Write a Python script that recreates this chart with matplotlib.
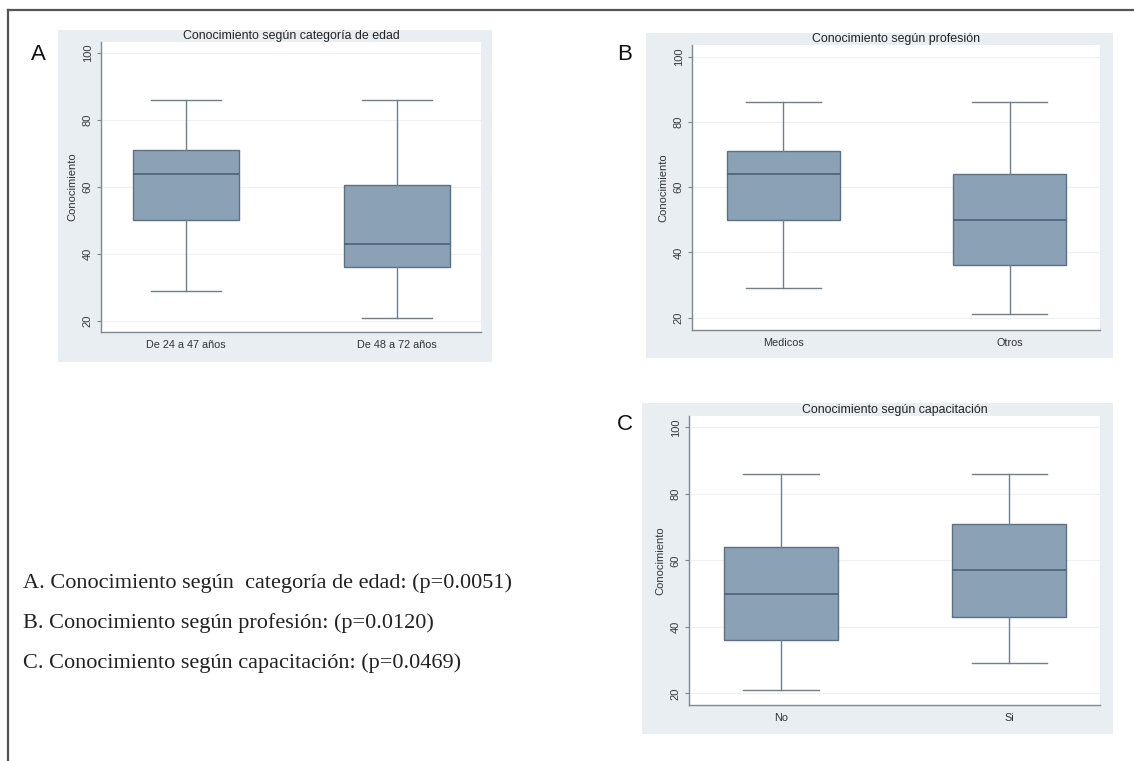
#!/usr/bin/env python3
"""Knowledge score box plots by age group, profession and training (Stata style)."""

import matplotlib

matplotlib.use("Agg")
import matplotlib.pyplot as plt
from matplotlib.lines import Line2D
from matplotlib.patches import Rectangle

W, H = 1134, 761

# --- data --------------------------------------------------------------------
edad_labels = ["De 24 a 47 años", "De 48 a 72 años"]
edad_whislo = [29, 21]
edad_q1 = [50, 36]
edad_med = [64, 43]
edad_q3 = [71, 60.5]
edad_whishi = [86, 86]

prof_labels = ["Medicos", "Otros"]
prof_whislo = [29, 21]
prof_q1 = [50, 36]
prof_med = [64, 50]
prof_q3 = [71, 64]
prof_whishi = [86, 86]

capa_labels = ["No", "Si"]
capa_whislo = [21, 29]
capa_q1 = [36, 43]
capa_med = [50, 57]
capa_q3 = [64, 71]
capa_whishi = [86, 86]

y_ticks = [20, 40, 60, 80, 100]

notes = [
    "A. Conocimiento según  categoría de edad: (p=0.0051)",
    "B. Conocimiento según profesión: (p=0.0120)",
    "C. Conocimiento según capacitación: (p=0.0469)",
]

BG = "#e8eef2"
BOX_FILL = "#8ba1b6"
BOX_EDGE = "#5c6f85"
MED = "#4d627a"
WHISK = "#707f8c"
AXIS = "#808890"
GRID = "#edf1f4"
TEXT = "#222222"


def _rect(x0, y0, x1, y1):
    return [x0 / W, 1 - y1 / H, (x1 - x0) / W, (y1 - y0) / H]


def _panel(fig, bg_px, ax_px, ylim, title, labels, whislo, q1, med, q3, whishi, letter, letter_xy):
    bx0, by0, bx1, by1 = bg_px
    fig.patches.append(
        Rectangle((bx0 / W, 1 - by1 / H), (bx1 - bx0) / W, (by1 - by0) / H,
                  transform=fig.transFigure, facecolor=BG, edgecolor="none", zorder=-5)
    )
    ax = fig.add_axes(_rect(*ax_px))
    ax.set_zorder(2)
    ax.set_facecolor("white")

    stats = [
        {"whislo": whislo[i], "q1": q1[i], "med": med[i], "q3": q3[i], "whishi": whishi[i], "fliers": []}
        for i in range(len(labels))
    ]
    ax.bxp(
        stats,
        positions=[1, 2],
        widths=0.5,
        capwidths=0.33,
        showfliers=False,
        patch_artist=True,
        boxprops={"facecolor": BOX_FILL, "edgecolor": BOX_EDGE, "linewidth": 1.0},
        medianprops={"color": MED, "linewidth": 1.2},
        whiskerprops={"color": WHISK, "linewidth": 1.0},
        capprops={"color": WHISK, "linewidth": 1.0},
    )
    ax.set_xlim(0.597, 2.398)
    ax.set_ylim(*ylim)
    ax.set_yticks(y_ticks)
    ax.set_yticklabels([str(t) for t in y_ticks], rotation=90, va="center", fontsize=8, color="#3a3a3a")
    ax.set_xticks([1, 2])
    ax.set_xticklabels(labels, fontsize=7.8, color="#333333")
    ax.tick_params(axis="x", length=0, pad=6)
    ax.tick_params(axis="y", length=3, width=0.8, color=AXIS, pad=3)
    ax.grid(axis="y", color=GRID, linewidth=0.8)
    ax.set_axisbelow(True)
    for side in ("top", "right"):
        ax.spines[side].set_visible(False)
    for side in ("left", "bottom"):
        ax.spines[side].set_color(AXIS)
        ax.spines[side].set_linewidth(1.0)
    ax.set_ylabel("Conocimiento", fontsize=8, color="#333333", labelpad=4)
    ax.set_title(title, fontsize=8.9, color=TEXT, pad=-2)
    fig.text(letter_xy[0] / W, 1 - letter_xy[1] / H, letter, fontsize=16,
             ha="center", va="center", color="#111111")
    return ax


def main():
    plt.rcParams["font.family"] = ["Liberation Sans", "DejaVu Sans"]
    fig = plt.figure(figsize=(W / 100, H / 100), dpi=100)
    fig.patch.set_facecolor("white")

    # frame of the original composite (only top and left edges visible)
    fig.add_artist(Line2D([8 / W, 1.0], [1 - 10 / H, 1 - 10 / H], transform=fig.transFigure,
                          color="#555555", linewidth=1.6))
    fig.add_artist(Line2D([8 / W, 8 / W], [1 - 10 / H, 0.0], transform=fig.transFigure,
                          color="#555555", linewidth=1.6))

    _panel(fig, (58, 30, 492, 362), (101, 42, 481, 332), (16.7, 103.3),
           "Conocimiento según categoría de edad", edad_labels,
           edad_whislo, edad_q1, edad_med, edad_q3, edad_whishi, "A", (38, 55))
    _panel(fig, (646, 33, 1113, 358), (692, 45, 1100, 330), (16.2, 103.6),
           "Conocimiento según profesión", prof_labels,
           prof_whislo, prof_q1, prof_med, prof_q3, prof_whishi, "B", (625, 55))
    _panel(fig, (642, 403, 1113, 734), (689, 416, 1100, 705), (16.5, 103.4),
           "Conocimiento según capacitación", capa_labels,
           capa_whislo, capa_q1, capa_med, capa_q3, capa_whishi, "C", (625, 425))

    for i, line in enumerate(notes):
        fig.text(23 / W, 1 - (583 + 40 * i) / H, line, fontsize=16,
                 family=["Liberation Serif", "DejaVu Serif"], ha="left", va="center", color=TEXT)

    fig.savefig("out.png", dpi=100)
    plt.close(fig)


if __name__ == "__main__":
    main()
